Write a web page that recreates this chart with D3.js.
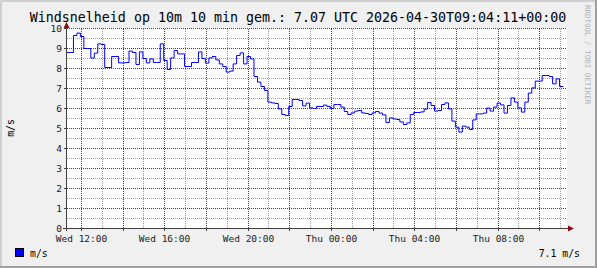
<!DOCTYPE html>
<html>
<head>
<meta charset="utf-8">
<script src="https://cdn.jsdelivr.net/npm/d3@7/dist/d3.min.js"></script>
<style>
  html, body { margin: 0; padding: 0; background: #f0f0f0; }
  svg { display: block; }
  text { font-family: "DejaVu Sans Mono", monospace; }
  .grid { shape-rendering: crispEdges; }
</style>
</head>
<body>
<svg id="chart" width="597" height="268"></svg>
<script>
// ---- data ----
const titleText = "Windsnelheid op 10m 10 min gem.: 7.07 UTC 2026-04-30T09:04:11+00:00";
const yAxisTitle = "m/s";
const seriesName = "m/s";
const lastLabel = "7.1 m/s";
const watermark = "RRDTOOL / TOBI OETIKER";
const startTime = "2026-04-29T11:17:00Z";
const spanHours = 24;
const stepMinutes = 10;
const yTicks = [0, 1, 2, 3, 4, 5, 6, 7, 8, 9, 10];
// 10-minute averages (m/s)
const speeds = [
  8.8, 8.8, 9.65, 9.77, 9.6, 9.0, 9.0, 8.52, 8.77, 9.23,
  9.2, 8.05, 8.05, 8.6, 8.6, 8.28, 8.28, 8.3, 8.87, 8.8,
  8.2, 8.83, 8.5, 8.28, 8.48, 8.3, 8.3, 9.23, 8.4, 7.95,
  8.53, 8.9, 8.73, 8.73, 8.1, 8.1, 8.3, 8.3, 8.83, 8.5,
  8.27, 8.53, 8.6, 8.43, 8.23, 8.1, 7.82, 7.87, 8.23, 8.65,
  8.78, 8.23, 8.6, 8.48, 7.6, 7.32, 7.1, 6.9, 6.32, 6.28,
  6.25, 5.98, 5.7, 5.65, 6.1, 6.45, 6.45, 6.4, 6.13, 6.27,
  6.03, 6.0, 6.1, 6.1, 6.17, 6.1, 6.0, 6.2, 6.2, 6.07,
  5.85, 5.7, 5.78, 5.87, 5.9, 5.78, 5.75, 5.7, 5.78, 5.85,
  5.77, 5.68, 5.3, 5.53, 5.48, 5.45, 5.33, 5.2, 5.28, 5.7,
  5.8, 5.8, 5.83, 5.97, 6.3, 6.15, 5.87, 5.9, 6.2, 6.28,
  5.98, 5.37, 5.07, 4.82, 5.12, 5.07, 4.95, 5.43, 5.73, 5.73,
  5.77, 6.02, 5.87, 6.07, 6.27, 6.18, 5.77, 6.15, 6.53, 6.32,
  6.03, 5.82, 6.32, 6.77, 7.03, 7.37, 7.37, 7.65, 7.65, 7.6,
  7.23, 7.48, 7.1, 7.07
];

// ---- chart ----
const W = 597, H = 268;
const svg = d3.select("#chart");
const t0 = new Date(startTime);
const t1 = new Date(t0.getTime() + spanHours * 3600e3);
const data = speeds.map((v, i) => ({ t: new Date(t0.getTime() + i * stepMinutes * 60e3), v }));

const x = d3.scaleUtc().domain([t0, t1]).range([66.5, 566.5]);
const y = d3.scaleLinear().domain([0, 10]).range([228.5, 28.5]);

// frame
svg.append("rect").attr("width", W).attr("height", H).attr("fill", "#f0f0f0");
svg.append("path").attr("d", `M0,1H${W}M1,0V${H}`).attr("stroke", "#d0d0d0").attr("stroke-width", 2).attr("fill", "none");
svg.append("path").attr("d", `M0,${H-1}H${W}M${W-1},0V${H}`).attr("stroke", "#a0a0a0").attr("stroke-width", 2).attr("fill", "none");

// canvas
svg.append("rect").attr("x", 67).attr("y", 28).attr("width", 500).attr("height", 200).attr("fill", "#ffffff");

const minorCol = "#6cbd6c", majorCol = "#1f5a1f";
const g = svg.append("g").attr("class", "grid");
const gx0 = 67, gx1 = 567, gyTop = 28, gyBot = 228;
// minor grid
const hMinor = d3.range(0.5, 10, 1);
g.selectAll(".hmin").data(hMinor).join("line")
  .attr("x1", gx0).attr("x2", gx1)
  .attr("y1", d => y(d)).attr("y2", d => y(d))
  .attr("stroke", minorCol).attr("stroke-dasharray", "1,1");
const vMinor = d3.utcHour.every(1).range(t0, t1).filter(d => d.getUTCHours() % 2 !== 0);
g.selectAll(".vmin").data(vMinor).join("line")
  .attr("x1", d => Math.floor(x(d)) + 0.5).attr("x2", d => Math.floor(x(d)) + 0.5)
  .attr("y1", gyBot).attr("y2", gyTop)
  .attr("stroke", minorCol).attr("stroke-dasharray", "1,1");
// major grid
g.selectAll(".hmaj").data(yTicks.filter(d => d > 0)).join("line")
  .attr("x1", gx0).attr("x2", gx1)
  .attr("y1", d => y(d)).attr("y2", d => y(d))
  .attr("stroke", majorCol).attr("stroke-dasharray", "1,1");
const vMajor = d3.utcHour.every(2).range(t0, t1);
g.selectAll(".vmaj").data(vMajor).join("line")
  .attr("x1", d => Math.floor(x(d)) + 0.5).attr("x2", d => Math.floor(x(d)) + 0.5)
  .attr("y1", gyBot).attr("y2", gyTop)
  .attr("stroke", majorCol).attr("stroke-dasharray", "1,1");

// data line
const line = d3.line().x(d => x(d.t)).y(d => y(d.v)).curve(d3.curveStepAfter);
svg.append("path").datum(data).attr("d", line)
  .attr("fill", "none").attr("stroke", "#0000ff").attr("stroke-width", 1);

// axes
const axisCol = "#404040";
const ax = svg.append("g").attr("class", "grid");
ax.append("line").attr("x1", 63).attr("x2", 570).attr("y1", y(0)).attr("y2", y(0)).attr("stroke", axisCol);
ax.append("line").attr("x1", 66.5).attr("x2", 66.5).attr("y1", 231).attr("y2", 25).attr("stroke", axisCol);
// ticks
ax.selectAll(".ytk").data(yTicks).join("line")
  .attr("x1", 64).attr("x2", 67).attr("y1", d => y(d)).attr("y2", d => y(d)).attr("stroke", axisCol);
ax.selectAll(".xtk").data(vMajor).join("line")
  .attr("x1", d => Math.floor(x(d)) + 0.5).attr("x2", d => Math.floor(x(d)) + 0.5)
  .attr("y1", 228).attr("y2", 231).attr("stroke", axisCol);
// arrows
const arrowCol = "#8b1010";
svg.append("path").attr("d", `M63.5,28 L66.5,22 L69.5,28 Z`).attr("fill", arrowCol);
svg.append("path").attr("d", `M568,225.5 L574,228.5 L568,231.5 Z`).attr("fill", arrowCol);

// labels
svg.selectAll(".ylab").data(yTicks).join("text")
  .attr("x", 62).attr("y", d => y(d) + 3.5).attr("text-anchor", "end")
  .attr("font-size", 9.5).attr("fill", "#202020").text(d => d);
const fmt = d3.utcFormat("%a %H:%M");
const labelTicks = d3.utcHour.every(4).range(t0, t1);
svg.selectAll(".xlab").data(labelTicks).join("text")
  .attr("x", d => Math.floor(x(d)) + 0.5).attr("y", 241.5).attr("text-anchor", "middle")
  .attr("font-size", 9.5).attr("fill", "#202020").text(d => fmt(d));

// title
svg.append("text").attr("x", 298).attr("y", 21.5).attr("text-anchor", "middle")
  .attr("font-size", 13.3).attr("fill", "#000").text(titleText);
// y axis title
svg.append("text").attr("transform", "translate(14,128) rotate(-90)").attr("text-anchor", "middle")
  .attr("font-size", 9.8).attr("fill", "#000").text(yAxisTitle);
// watermark
svg.append("text").attr("transform", "translate(585,5) rotate(90)").attr("text-anchor", "start")
  .attr("font-size", 7.5).attr("fill", "#b0b0b0").text(watermark);

// legend
svg.append("rect").attr("x", 15.5).attr("y", 248.5).attr("width", 8).attr("height", 8)
  .attr("fill", "#0000ff").attr("stroke", "#000");
svg.append("text").attr("x", 30).attr("y", 257).attr("font-size", 9.8).attr("fill", "#000").text(seriesName);
svg.append("text").attr("x", 580).attr("y", 257).attr("text-anchor", "end").attr("font-size", 9.8).attr("fill", "#000").text(lastLabel);
</script>
</body>
</html>
